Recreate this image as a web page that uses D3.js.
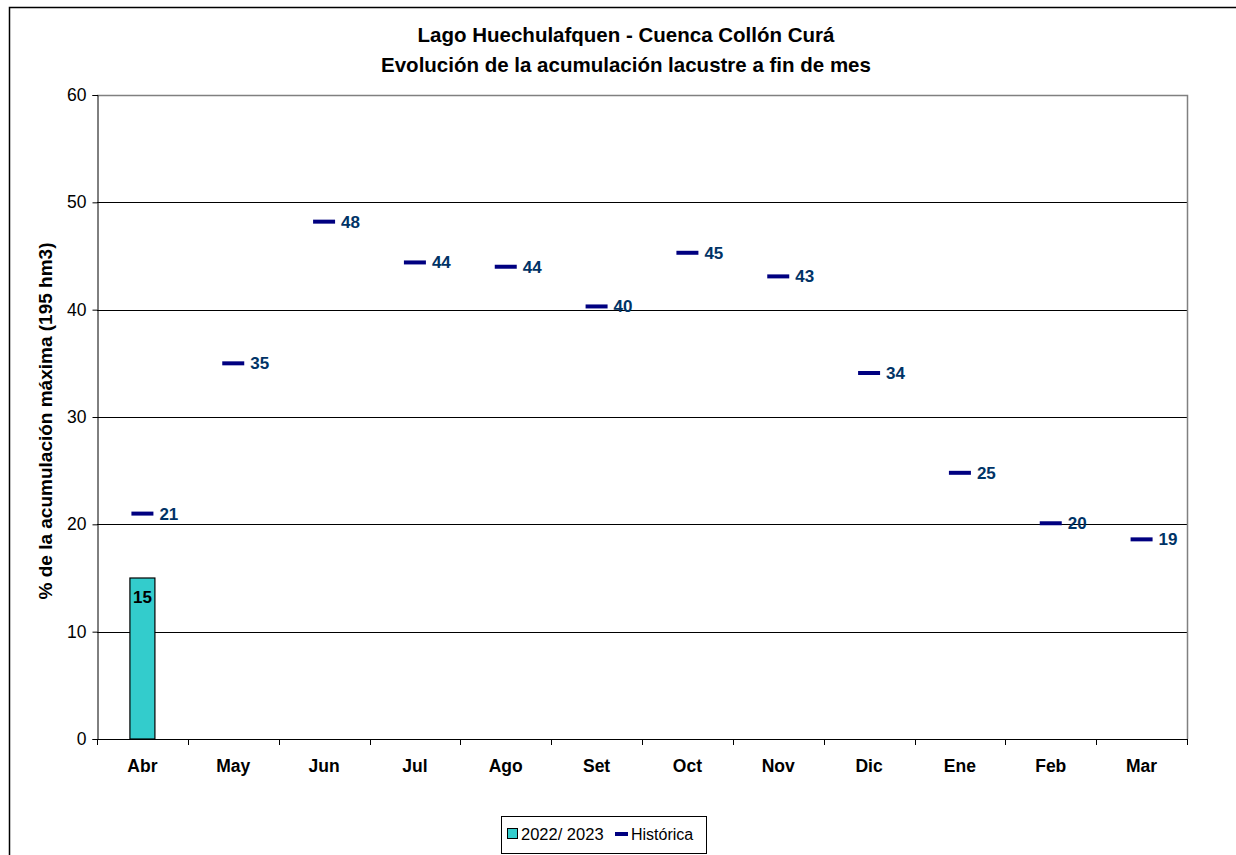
<!DOCTYPE html>
<html>
<head>
<meta charset="utf-8">
<script src="https://cdn.jsdelivr.net/npm/d3@7"></script>
<style>
  body { margin: 0; background: #fff; }
  text { font-family: "Liberation Sans", Arial, sans-serif; }
</style>
</head>
<body>
<div id="output"></div>
<script>
(function () {

"use strict";

var months = [ "Abr", "May", "Jun", "Jul", "Ago", "Set", "Oct", "Nov", "Dic", "Ene", "Feb", "Mar" ]
var current = [ 15, null, null, null, null, null, null, null, null, null, null, null ]
var historica = [ 21.0, 35.0, 48.2, 44.4, 44.0, 40.3, 45.3, 43.1, 34.1, 24.8, 20.1, 18.6 ]
var histLabels = [ "21", "35", "48", "44", "44", "40", "45", "43", "34", "25", "20", "19" ]
var yTicks = [ 0, 10, 20, 30, 40, 50, 60 ]

var width = 1236
  , height = 855
  , left = 97, right = 1187, top = 95, bottom = 739

var svg = d3.select("#output").append("svg").attr("width", width).attr("height", height)

// outer frame (runs off the right and bottom edges)
svg.append("rect")
  .attr("x", 9.5).attr("y", 7.5).attr("width", 1240).attr("height", 860)
  .style("fill", "none").style("stroke", "#000").style("stroke-width", 1.5)

var x = d3.scaleBand().domain(months).range([left, right])
var y = d3.scaleLinear().domain([0, 60]).range([bottom, top])

// title
svg.append("text").attr("x", 626).attr("y", 42).attr("text-anchor", "middle")
  .style("font-size", "20.5px").style("font-weight", "bold").text("Lago Huechulafquen - Cuenca Collón Curá")
svg.append("text").attr("x", 626).attr("y", 72).attr("text-anchor", "middle")
  .style("font-size", "20.5px").style("font-weight", "bold").text("Evolución de la acumulación lacustre a fin de mes")

// gridlines
svg.append("g").selectAll("line").data(yTicks.slice(1, -1)).enter().append("line")
  .attr("x1", left).attr("x2", right)
  .attr("y1", function (d) { return Math.round(y(d)) + 0.5 }).attr("y2", function (d) { return Math.round(y(d)) + 0.5 })
  .style("stroke", "#000")

// plot border top/right in gray
svg.append("path")
  .attr("d", "M" + left + "," + (top + 0.5) + "H" + (right + 0.5) + "V" + bottom)
  .style("fill", "none").style("stroke", "#808080").style("stroke-width", 1.5)

// y axis
var yAxis = svg.append("g").attr("transform", "translate(" + (left + 0.5) + ",0)")
  .call(d3.axisLeft(y).tickValues(yTicks).tickSize(5).tickPadding(6))
yAxis.select(".domain").style("stroke", "#000")
yAxis.selectAll("line").style("stroke", "#000")
yAxis.selectAll("text").style("font-size", "17.5px").style("fill", "#000")
  .style("font-family", "'Liberation Sans', Arial, sans-serif")

// x axis with ticks at category boundaries
svg.append("line").attr("x1", left).attr("x2", right + 1)
  .attr("y1", bottom + 0.5).attr("y2", bottom + 0.5).style("stroke", "#000").style("stroke-width", 1.2)
var bounds = months.map(function (m) { return x(m) }).concat([right])
svg.append("g").selectAll("line").data(bounds).enter().append("line")
  .attr("x1", function (d) { return Math.round(d) + 0.5 }).attr("x2", function (d) { return Math.round(d) + 0.5 })
  .attr("y1", bottom).attr("y2", bottom + 6).style("stroke", "#000")
svg.append("g").selectAll("text").data(months).enter().append("text")
  .attr("x", function (d) { return x(d) + x.bandwidth() / 2 })
  .attr("y", 772).attr("text-anchor", "middle")
  .style("font-size", "17.5px").style("font-weight", "bold")
  .text(function (d) { return d })

// y axis title
svg.append("text")
  .attr("transform", "translate(52," + ((top + bottom) / 2 + 4) + ") rotate(-90)")
  .attr("text-anchor", "middle")
  .style("font-size", "19px").style("font-weight", "bold")
  .text("% de la acumulación máxima (195 hm3)")

// bars
var barW = 25
var bars = svg.append("g").selectAll("g").data(current.map(function (v, i) { return { m: months[i], v: v } })
  .filter(function (d) { return d.v != null })).enter().append("g")
bars.append("rect")
  .attr("x", function (d) { return x(d.m) + x.bandwidth() / 2 - barW / 2 })
  .attr("y", function (d) { return y(d.v) })
  .attr("width", barW)
  .attr("height", function (d) { return y(0) - y(d.v) })
  .style("fill", "#33CCCC").style("stroke", "#000").style("stroke-width", 1.2)
bars.append("text")
  .attr("x", function (d) { return x(d.m) + x.bandwidth() / 2 })
  .attr("y", function (d) { return y(d.v) + 25 })
  .attr("text-anchor", "middle")
  .style("font-size", "17px").style("font-weight", "bold")
  .text(function (d) { return Math.round(d.v) })

// historical markers
var hist = svg.append("g").selectAll("g").data(historica).enter().append("g")
hist.append("line")
  .attr("x1", function (d, i) { return x(months[i]) + x.bandwidth() / 2 - 11 })
  .attr("x2", function (d, i) { return x(months[i]) + x.bandwidth() / 2 + 11 })
  .attr("y1", function (d) { return y(d) }).attr("y2", function (d) { return y(d) })
  .style("stroke", "#000080").style("stroke-width", 4)
hist.append("text")
  .attr("x", function (d, i) { return x(months[i]) + x.bandwidth() / 2 + 17 })
  .attr("y", function (d) { return y(d) + 6 })
  .style("font-size", "17px").style("font-weight", "bold").style("fill", "#003366")
  .text(function (d, i) { return histLabels[i] })

// legend
var lg = svg.append("g")
lg.append("rect").attr("x", 501.5).attr("y", 816.5).attr("width", 205).attr("height", 37)
  .style("fill", "#fff").style("stroke", "#000")
lg.append("rect").attr("x", 507.5).attr("y", 828.5).attr("width", 10).attr("height", 10)
  .style("fill", "#33CCCC").style("stroke", "#000")
lg.append("text").attr("x", 521).attr("y", 840).style("font-size", "16.5px").text("2022/ 2023")
lg.append("line").attr("x1", 615).attr("x2", 628).attr("y1", 834).attr("y2", 834)
  .style("stroke", "#000080").style("stroke-width", 4)
lg.append("text").attr("x", 631).attr("y", 840).style("font-size", "16px").text("Histórica")

}())
</script>
</body>
</html>
